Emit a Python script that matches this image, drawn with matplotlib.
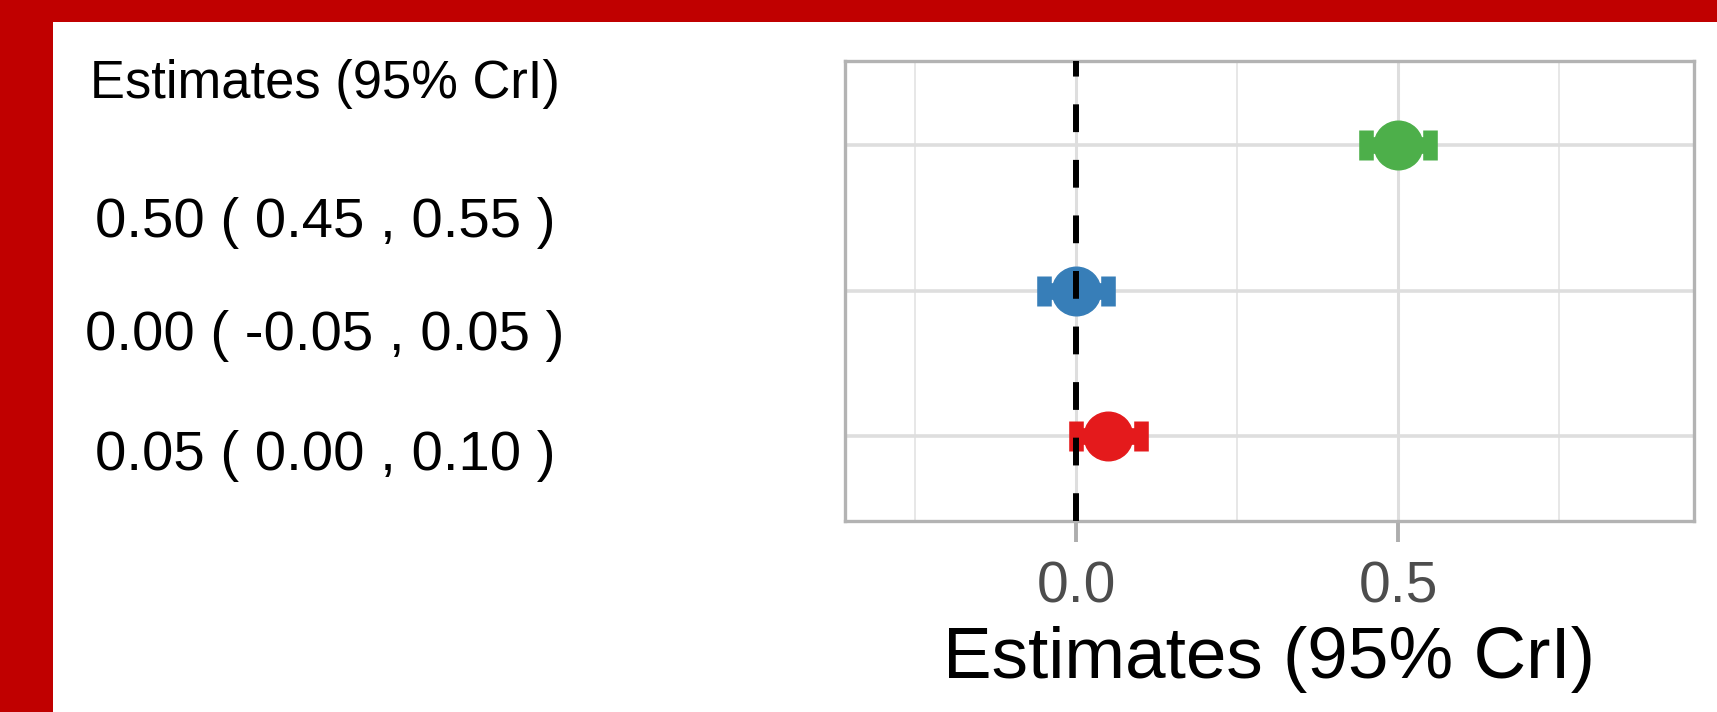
"""Forest-style plot: estimate table on the left, point + CrI panel on the right."""
import matplotlib.pyplot as plt
from matplotlib.patches import Rectangle

plt.rcParams["font.family"] = ["Liberation Sans", "DejaVu Sans"]
plt.rcParams["lines.scale_dashes"] = False

# rows listed bottom -> top
estimates = [0.05, 0.00, 0.50]
lower = [0.00, -0.05, 0.45]
upper = [0.10, 0.05, 0.55]
colors = ["#E41A1C", "#377EB8", "#4DAF4A"]
xticks = [0.0, 0.5]
xminor = [-0.25, 0.25, 0.75]
title = "Estimates (95% CrI)"

W, H = 1717, 712
fig = plt.figure(figsize=(W / 100, H / 100), dpi=100, facecolor="#C00000")
fig.patches.append(Rectangle((53 / W, 0), 1 - 53 / W, 1 - 22 / H,
                             transform=fig.transFigure, facecolor="white",
                             edgecolor="none", zorder=-10))

# left text column
fig.text(325 / W, 1 - 98 / H, title, ha="center", va="baseline", fontsize=37.8)
row_baselines = [470, 350, 237]  # px from top, bottom row first
for est, lo, hi, yb in zip(estimates, lower, upper, row_baselines):
    fig.text(325 / W, 1 - yb / H, f"{est:.2f} ( {lo:.2f} , {hi:.2f} )",
             ha="center", va="baseline", fontsize=40.6)

# right panel
left, right, top, bottom = 844.5, 1694, 60.5, 520.5
ax = fig.add_axes([left / W, 1 - bottom / H, (right - left) / W, (bottom - top) / H])
ys = list(range(1, len(estimates) + 1))
for y, est, lo, hi, c in zip(ys, estimates, lower, upper, colors):
    ax.errorbar([est], [y], xerr=[[est - lo], [hi - est]], fmt="o", color=c,
                markersize=35, elinewidth=12, capsize=10.5, capthick=10.5, zorder=3)
ax.axvline(0, color="black", lw=4.3, linestyle=(0, (20, 20)), zorder=5)

ax.set_xlim(-0.36, 0.96)
ax.set_ylim(0.42, 3.58)
ax.set_xticks(xticks)
ax.set_xticklabels([f"{t:.1f}" for t in xticks])
ax.set_xticks(xminor, minor=True)
ax.set_yticks(ys)
ax.tick_params(axis="y", left=False, labelleft=False)
ax.tick_params(axis="x", which="major", direction="out", length=15, width=2.8,
               color="#ADADAD", labelsize=41, labelcolor="#4D4D4D", pad=14)
ax.tick_params(axis="x", which="minor", length=0)
ax.grid(True, which="major", axis="x", color="#DEDEDE", lw=2.2)
ax.grid(True, which="minor", axis="x", color="#E3E3E3", lw=1.2)
ax.grid(True, which="major", axis="y", color="#DEDEDE", lw=2.6)
ax.set_axisbelow(True)
for s in ax.spines.values():
    s.set_color("#B3B3B3")
    s.set_linewidth(2.4)
ax.set_xlabel(title, fontsize=52.5, labelpad=8)

fig.savefig("out.png", dpi=100, facecolor=fig.get_facecolor())
